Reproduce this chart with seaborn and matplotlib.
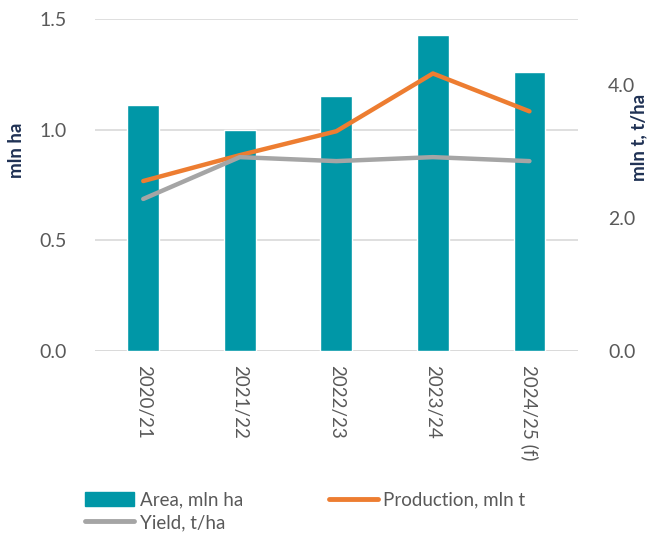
import pandas as pd
import matplotlib.pyplot as plt
import seaborn as sns
from matplotlib.lines import Line2D
from matplotlib.patches import Patch

# data
seasons = ['2020/21', '2021/22', '2022/23', '2023/24', '2024/25 (f)']
area = [1.11, 1.00, 1.15, 1.43, 1.26]          # mln ha, left axis
production = [2.56, 2.95, 3.31, 4.18, 3.61]    # mln t, right axis
yield_t = [2.29, 2.92, 2.86, 2.92, 2.86]       # t/ha, right axis

df = pd.DataFrame({'season': seasons, 'area': area,
                   'production': production, 'yield': yield_t})

teal = '#0097A7'
orange = '#ED7D31'
grey = '#A5A5A5'
navy = '#1F3154'
tick_grey = '#595959'

sns.set_theme(style='white')
plt.rcParams['font.family'] = ['Lato', 'DejaVu Sans']

fig = plt.figure(figsize=(6.55, 5.38), dpi=100)
ax = fig.add_axes([0.145, 0.3476, 0.737, 0.617])

sns.barplot(data=df, x='season', y='area', color=teal, width=0.33,
            saturation=1, ax=ax, zorder=2)
ax.set_ylim(0, 1.5)
ax.set_yticks([0, 0.5, 1.0, 1.5])
ax.set_yticklabels(['0.0', '0.5', '1.0', '1.5'])
ax.yaxis.grid(True, color='#D9D9D9', linewidth=1.2, zorder=0)
ax.set_axisbelow(True)
ax.set_xlabel('')
ax.set_ylabel('')
for s in ax.spines.values():
    s.set_visible(False)
ax.tick_params(axis='y', length=0, labelsize=14, labelcolor=tick_grey, pad=20)
ax.tick_params(axis='x', length=0, labelsize=13.5, labelcolor=tick_grey, pad=10)
plt.setp(ax.get_xticklabels(), rotation=270, va='top', ha='center')
ax.axhline(0, color='#D9D9D9', linewidth=1.2, zorder=1)

ax2 = ax.twinx()
sns.lineplot(data=df, x='season', y='production', color=orange, linewidth=3.2,
             solid_capstyle='round', ax=ax2, zorder=3)
sns.lineplot(data=df, x='season', y='yield', color=grey, linewidth=3.2,
             solid_capstyle='round', ax=ax2, zorder=3)
ax2.set_ylim(0, 5.0)
ax2.set_yticks([0, 2, 4])
ax2.set_yticklabels(['0.0', '2.0', '4.0'])
ax2.set_ylabel('')
for s in ax2.spines.values():
    s.set_visible(False)
ax2.tick_params(axis='y', length=0, labelsize=14, labelcolor=tick_grey, pad=22)
ax2.grid(False)
ax.set_xlim(-0.5, 4.5)

# axis titles placed as in the reference
fig.text(0.025, 0.72, 'mln ha', rotation=90, ha='center', va='center',
         fontsize=13.5, fontweight='bold', color=navy)
fig.text(0.975, 0.745, 'mln t, t/ha', rotation=90, ha='center', va='center',
         fontsize=13.5, fontweight='bold', color=navy)

handles = [Patch(color=teal), Line2D([0], [0], color=grey, linewidth=3.5, solid_capstyle='round'),
           Line2D([0], [0], color=orange, linewidth=3.5, solid_capstyle='round')]
labels = ['Area, mln ha', 'Yield, t/ha', 'Production, mln t']
fig.legend(handles, labels, ncol=2, loc='lower left', bbox_to_anchor=(0.11, -0.012),
           frameon=False, fontsize=13.5, labelcolor=tick_grey, handlelength=2.6,
           handleheight=0.8, handletextpad=0.3, columnspacing=4.6, labelspacing=0.3,
           borderaxespad=0.3)

fig.savefig('out.png', dpi=100)
